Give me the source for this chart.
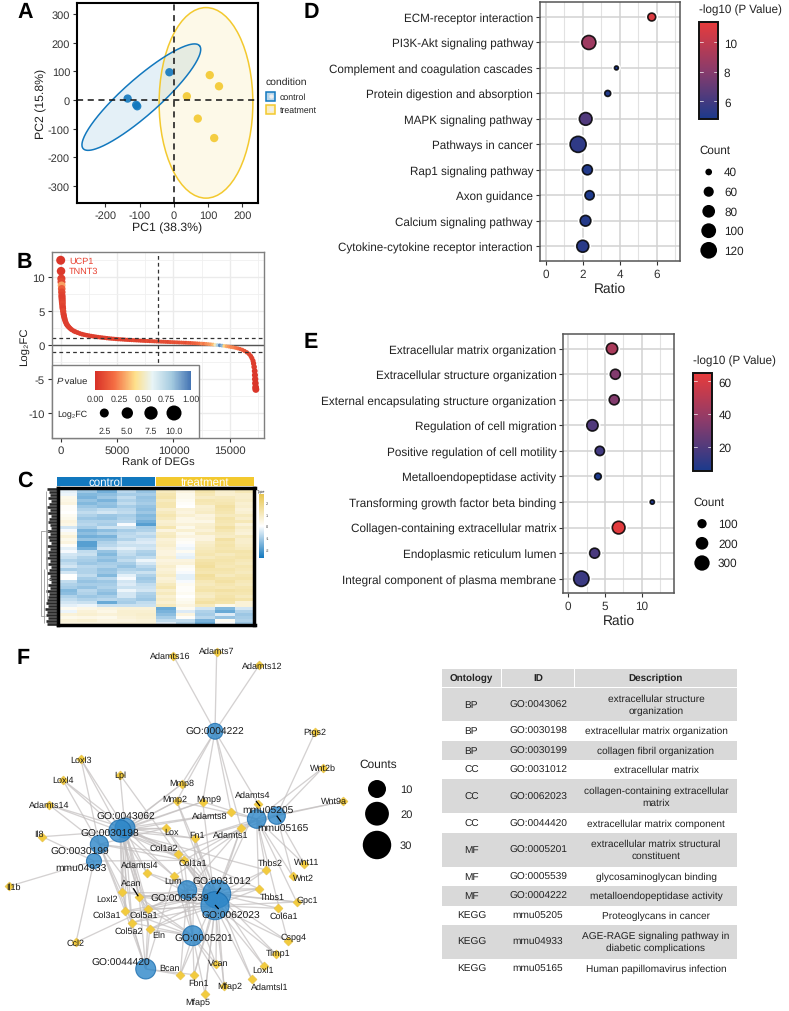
import numpy as np, pandas as pd, matplotlib
matplotlib.use('Agg')
import matplotlib.pyplot as plt, seaborn as sns
from matplotlib.colors import LinearSegmentedColormap as LSC, Normalize
from matplotlib.cm import ScalarMappable
from matplotlib.collections import LineCollection
from matplotlib.patches import Rectangle, Ellipse
from matplotlib.ticker import MultipleLocator

sns.set_theme(style='white')
plt.rcParams['font.family'] = ['Liberation Sans', 'DejaVu Sans']
plt.rcParams['axes.unicode_minus'] = False
plt.rcParams['text.hinting'] = 'no_hinting'

W, H = 789, 1012
BLUE, GOLD = '#1278BE', '#F3C92F'

# ---------- A: PCA ----------
pc1_control = [-135, -110, -107, -13]
pc2_control = [5, -17, -22, 97]
pc1_treat = [38, 105, 132, 70, 118]
pc2_treat = [13, 87, 48, -65, -133]
# ---------- B: ranked curve ----------
rank_deg = [0, 30, 60, 70, 80, 90, 100, 110, 120, 130, 140, 150, 170, 190, 220, 250, 290, 330, 380, 440, 520, 600, 700, 820, 960,
            1150, 1300, 1500, 1700, 1900, 2100, 2300, 2500, 2700, 2900, 3100, 3300, 3500, 3700, 3900, 4100, 4300, 4500, 4700, 4900,
            5100, 5300, 5500, 5700, 5900, 6100, 6300, 6500, 6700, 6900, 7100, 7300, 7500, 7700, 7900, 8100, 8300, 8500, 8700, 8900,
            9100, 9300, 9500, 9700, 9900, 10100, 10300, 10500, 10700, 10900, 11100, 11300, 11500, 11700, 11900, 12100, 12300, 12500,
            12700, 12900, 13100, 13300, 13500, 13700, 13900, 14100, 14300, 14500, 14700, 14900, 15100, 15300, 15500, 15700, 15900,
            16100, 16300, 16500, 16700, 16850, 16950, 17050, 17100, 17150, 17200, 17220, 17240, 17260, 17280, 17300]
log2fc = [12.5, 10.9, 9.8, 9.3, 8.8, 8.3, 7.8, 7.3, 7.0, 6.7, 6.4, 6.1, 5.7, 5.4, 5.0, 4.6, 4.3, 4.0, 3.7, 3.4, 3.1, 2.9, 2.7, 2.5, 2.3,
          2.1, 1.98, 1.85, 1.72, 1.62, 1.54, 1.47, 1.41, 1.35, 1.3, 1.25, 1.2, 1.16, 1.12, 1.08, 1.04, 1.0, 0.97, 0.94, 0.91,
          0.88, 0.86, 0.84, 0.81, 0.79, 0.77, 0.75, 0.73, 0.71, 0.69, 0.67, 0.65, 0.63, 0.62, 0.6, 0.59, 0.57, 0.55, 0.54, 0.52,
          0.51, 0.49, 0.48, 0.46, 0.45, 0.43, 0.42, 0.4, 0.39, 0.37, 0.36, 0.34, 0.33, 0.31, 0.29, 0.27, 0.25, 0.23,
          0.21, 0.19, 0.16, 0.13, 0.1, 0.06, 0.02, -0.02, -0.06, -0.11, -0.16, -0.21, -0.27, -0.32, -0.39, -0.47, -0.56,
          -0.68, -0.85, -1.05, -1.3, -1.6, -1.9, -2.3, -2.7, -3.2, -3.8, -4.4, -5.0, -5.6, -6.2, -6.5]
pvalue_deg = [.02, .03, .05, .08, .3, .15, .08, .06, .05, .05, .06, .08, .06, .05, .08, .06, .05, .05, .05, .05, .05, .05, .05, .05, .05,
              .05, .05, .05, .05, .05, .05, .05, .05, .05, .05, .05, .05, .06, .05, .06, .05, .06, .05, .07, .06, .06, .06, .06, .06, .07, .06,
              .07, .08, .06, .07, .06, .08, .07, .09, .07, .1, .08, .1, .08, .1, .09, .1, .08, .1, .12, .1, .12, .1, .13, .12, .1, .14, .12,
              .15, .16, .18, .2, .25, .22, .26, .28, .3, .35, .5, .75, .95, .85, .4, .32, .28, .25, .25, .22, .2, .17,
              .15, .12, .1, .08, .07, .06, .05, .04, .04, .03, .03, .03, .02, .02, .02]
# ---------- C: heat map (rows top to bottom) ----------
c1 = [-.5,-.3,-.2,.3,.4,.5,.1,.1,.0,.2,.3,.5,.4,-.5,-.1,.3,.6,.3,.5,.1,-.3,-.1,-.5,-.6,-.9,-.7,-.5,-1,-.5,.0,.0,-.7,-.9,-1,-1.4,-1.3,-.9,-.7,-.5,-.3,.2,-.2,.6,.3,.6,.5]
c2 = [-1,-1.1,-1.4,-1.5,-1.2,-1.4,-1.1,-.9,-.7,-.9,-1.1,-.9,-.8,-1,-1.5,-1.3,-1.6,-1.2,-1.9,-1.9,-1.6,-.7,-.6,-.9,-1,-1.1,-.8,-.9,-.9,-.7,-1,-1.2,-1,-1.2,-.8,-.9,-1.1,-.9,-.6,-.2,.4,.6,.7,.4,.7,.5]
c3 = [-1.1,-1.6,-1.3,-1.1,-1.5,-1.2,-1.3,-.7,-.5,-1.1,-1.2,-.9,-1,-.6,-1.3,-1,-1.5,-1.2,-.9,-.8,-.5,-1.2,-1.4,-1.1,-1.3,-1,-.9,-1.2,-1.1,-1.4,-.8,-1.1,-1,-.9,-1.1,-1.3,-1,-.8,-1.7,-.6,.5,.4,.6,.3,.5,.5]
c4 = [-.5,-.8,-1,-.7,-.9,-.7,-1,-.8,-.7,-1,-.9,-.8,-.1,-.6,-1,-.8,-.7,-.9,-.5,-.6,-.3,-.6,-.7,-.9,-.7,-1,-1.2,-.9,-.7,-.3,-.1,-.5,-.4,-.6,-.2,-.5,-.5,-.9,-1,-.6,.6,.7,.7,.6,.5,.6]
c5 = [-1,-1.2,-1,-1.2,-1.1,-1,-1.2,-1.3,-1.1,-1.4,-1.3,-1.6,-1.9,-1,-.9,-.6,-.8,-.5,-.4,-.6,-.5,-.9,-1,-.7,-.2,-.5,-.8,-1,-.6,-.9,-1.1,-1,-.7,-.6,-.5,-.9,-1,-1.1,-.7,-.6,.6,.7,.8,.7,.6,.6]
c6 = [1.1,1,1.2,1.3,1,1.2,1.2,.8,1,1.2,1,.7,.8,1.2,.5,.9,1,.6,.7,.8,.6,.5,.5,.7,.5,.6,.8,.6,.7,.9,.6,.7,1,1.2,.8,1,.7,.9,.7,1,-1.7,-1.5,-1.3,-1,-.7,-.4]
c7 = [.4,.5,.3,.3,.2,.1,.0,.6,.5,.7,.4,.4,.6,.3,.7,.3,.5,.2,.1,-.1,-.2,.2,-.2,-.3,.5,.6,.2,.1,-.1,-.3,-.3,-.1,.2,.1,.1,.2,.0,.2,.3,.5,.2,-.4,.5,.1,-.7,-.9]
c8 = [1.2,1.3,1.1,.9,1.2,1.1,.7,.8,.9,.5,.6,.4,.7,.8,.6,.9,.5,.5,.8,.9,1,1.1,1.2,1,1.3,1.4,1.5,1.3,1.2,1.5,1.4,1.1,1,1.2,1.3,1,.9,1.2,1.4,1,-.5,-.9,-1,-.8,-1.5,-1.7]
c9 = [.3,.8,.7,1,1.1,1.2,1.4,1.3,1.2,1,1.3,1.2,1.1,1.4,1.2,1,.9,1.4,1.2,1.3,1.2,1.3,1,1.2,1.3,1.2,1.1,1.3,1.2,1,1.3,1.4,1.2,1.1,1.4,1.2,1.3,1.4,1.3,.3,-1.4,-1.7,-.4,-1.2,.2,-.1]
c10 = [.9,1.1,.8,.8,.9,.7,.8,.6,.7,1,.8,1.1,.6,.9,.7,.6,1,.8,.8,.9,1,1.3,1.2,1.3,1.1,1,1.2,1.1,1,1.2,1.3,1.1,1,1.2,1.3,1.2,1,1.3,.6,.6,-.5,-.9,-1.1,-1,-.9,-1.1]
# ---------- D ----------
kegg_terms = ['ECM-receptor interaction', 'PI3K-Akt signaling pathway', 'Complement and coagulation cascades',
              'Protein digestion and absorption', 'MAPK signaling pathway', 'Pathways in cancer', 'Rap1 signaling pathway',
              'Axon guidance', 'Calcium signaling pathway', 'Cytokine-cytokine receptor interaction']
kegg_ratio = [5.73, 2.33, 3.82, 3.35, 2.16, 1.75, 2.25, 2.37, 2.15, 2.0]
kegg_count = [46, 92, 30, 37, 80, 113, 59, 54, 64, 74]
kegg_logp = [10.9, 8.8, 5.0, 5.0, 6.4, 5.4, 5.0, 4.9, 5.1, 5.2]
kegg_legend = [40, 60, 80, 100, 120]
# ---------- E ----------
go_terms = ['Extracellular matrix organization', 'Extracellular structure organization',
            'External encapsulating structure organization', 'Regulation of cell migration',
            'Positive regulation of cell motility', 'Metalloendopeptidase activity',
            'Transforming growth factor beta binding', 'Collagen-containing extracellular matrix',
            'Endoplasmic reticulum lumen', 'Integral component of plasma membrane']
go_ratio = [5.95, 6.4, 6.25, 3.3, 4.3, 4.05, 11.4, 6.85, 3.6, 1.8]
go_count = [156, 118, 118, 156, 100, 43, 8, 200, 118, 300]
go_logp = [45, 33, 33, 20, 16, 6, 7, 63, 18, 14]
go_legend = [100, 200, 300]
# ---------- F: network ----------
term_names = ['GO:0004222', 'mmu05205', 'mmu05165', 'GO:0043062', 'GO:0030198', 'GO:0030199', 'mmu04933',
              'GO:0005539', 'GO:0031012', 'GO:0062023', 'GO:0005201', 'GO:0044420']
term_counts = [7, 11, 9, 13, 17, 10, 6, 11, 29, 29, 13, 13]
term_x = [215, 256.7, 276.7, 125, 120, 99.3, 94, 187.3, 216.7, 215, 192.7, 145.7]
term_y = [732.3, 820, 816.7, 829, 832, 845.3, 862, 891, 895, 906.7, 936.7, 970]
term_lx = [215, 268, 283, 126, 110, 80, 80.7, 180, 221.7, 230.7, 204, 120.7]
term_ly = [732.3, 811.7, 829, 817, 834.7, 852, 869.3, 899, 882, 916.7, 939.3, 963.3]
gene_names = ['Adamts16', 'Adamts7', 'Adamts12', 'Ptgs2', 'Wnt2b', 'Wnt9a', 'Adamts4', 'Adamts8', 'Mmp9', 'Mmp8', 'Mmp2', 'Lpl', 'Loxl3', 'Loxl4',
              'Adamts14', 'Il8', 'Il1b', 'Lox', 'Col1a2', 'Col1a1', 'Fn1', 'Adamts1', 'Adamtsl4', 'Lum', 'Acan', 'Loxl2', 'Col3a1', 'Col5a1', 'Col5a2',
              'Eln', 'Ccl2', 'Bcan', 'Fbn1', 'Vcan', 'Mfap2', 'Mfap5', 'Adamtsl1', 'Loxl1', 'Timp1', 'Cspg4', 'Col6a1', 'Gpc1', 'Thbs1', 'Thbs2', 'Wnt2', 'Wnt11']
gene_x = [173.3, 216.7, 259.3, 315, 322.7, 343.3, 258.3, 231, 202.7, 181.7, 176.7, 120, 81, 62.7,
          49.3, 42.3, 9, 165.7, 178.3, 184, 195, 241, 146.7, 174, 139.3, 122, 125, 148.3, 132,
          149.7, 76, 180.3, 194, 216, 224, 205, 251.7, 264, 276, 287.7, 278.3, 296.7, 258.7, 266, 292.7, 304]
gene_y = [656.7, 652.7, 666, 733.3, 769, 802.3, 805, 813.3, 802.7, 785, 802, 775.7, 760.3, 780.7,
          806, 837.7, 887.3, 829, 854.7, 861.3, 839.3, 828.7, 873.7, 877.3, 898, 893.3, 912, 910.3, 923.7,
          930.3, 943.3, 975.7, 975.7, 965, 986.7, 995, 980, 967, 955.3, 942.3, 909.3, 903, 889.7, 871, 877.3, 865]
gene_lx = [170.7, 216.7, 262, 315, 322.7, 333.7, 252.7, 209.3, 208.3, 181.7, 174.3, 120, 81, 62.7,
           49.3, 39, 13.3, 172, 164, 192.7, 197.3, 230.7, 139.3, 172.7, 131, 107.3, 106.7, 143.3, 128.7,
           159, 76, 170, 198.7, 218.3, 230, 197.3, 269.3, 263.3, 278.3, 293.3, 283.7, 307, 272, 270.7, 303.7, 306.7]
gene_ly = [657, 652, 667, 733.3, 769, 802, 795.3, 816.3, 800, 784, 800.3, 775.7, 760.3, 780.7,
           806, 835, 887.7, 832.3, 848.3, 863.7, 835.7, 835.7, 865.7, 882, 884, 900, 916, 916, 931.7,
           935.3, 943.3, 969, 983.3, 963.3, 987, 1003, 987.3, 970.3, 954, 938.3, 916.3, 900.7, 898, 864, 878.7, 862.3]
ECM = ['GO:0031012', 'GO:0062023']
MAT = ['GO:0043062', 'GO:0030198']
gene_terms = {'Adamts16': ['GO:0004222'], 'Adamts7': ['GO:0004222'], 'Adamts12': ['GO:0004222'], 'Ptgs2': ['mmu05165'],
    'Wnt2b': ['mmu05205', 'mmu05165'], 'Wnt9a': ['mmu05205', 'mmu05165'], 'Adamts4': ['GO:0004222', 'GO:0031012'],
    'Adamts8': ['GO:0004222', 'GO:0043062', 'GO:0030198'], 'Mmp9': ['GO:0004222', 'mmu05205', 'GO:0043062', 'GO:0030198', 'GO:0062023'],
    'Mmp8': ['GO:0004222', 'GO:0043062', 'GO:0030198'], 'Mmp2': ['GO:0004222', 'mmu05205', 'GO:0043062', 'GO:0030198', 'GO:0031012', 'GO:0062023'],
    'Lpl': ['GO:0043062', 'GO:0062023'], 'Loxl3': ['GO:0043062', 'GO:0030198', 'GO:0030199'], 'Loxl4': ['GO:0043062', 'GO:0030198', 'GO:0030199'],
    'Adamts14': ['GO:0043062', 'GO:0030198', 'GO:0030199'], 'Il8': ['GO:0030198', 'mmu04933'], 'Il1b': ['mmu04933'],
    'Lox': MAT + ['GO:0030199', 'GO:0031012', 'GO:0062023'], 'Col1a2': MAT + ['GO:0030199', 'mmu05165', 'GO:0005201'] + ECM,
    'Col1a1': MAT + ['GO:0030199', 'mmu05205', 'GO:0005201', 'mmu04933'] + ECM, 'Fn1': MAT + ['mmu05205', 'mmu05165', 'GO:0005201'] + ECM,
    'Adamts1': ['GO:0004222', 'GO:0005539'] + ECM, 'Adamtsl4': MAT + ECM, 'Lum': MAT + ['GO:0005539', 'GO:0005201', 'mmu05205', 'GO:0044420'] + ECM,
    'Acan': MAT + ['GO:0005539', 'GO:0005201', 'GO:0044420'] + ECM, 'Loxl2': MAT + ['GO:0030199', 'GO:0044420'] + ECM,
    'Col3a1': MAT + ['GO:0030199', 'GO:0044420', 'GO:0005201'] + ECM, 'Col5a1': MAT + ['GO:0030199', 'GO:0005539', 'GO:0044420', 'GO:0005201'] + ECM,
    'Col5a2': MAT + ['GO:0030199', 'GO:0044420', 'GO:0005201'] + ECM, 'Eln': MAT + ['GO:0044420', 'GO:0005201'] + ECM,
    'Ccl2': ['mmu04933', 'GO:0005539'], 'Bcan': ['GO:0044420', 'GO:0005539', 'GO:0005201', 'GO:0031012'], 'Fbn1': ['GO:0044420', 'GO:0005201'] + ECM,
    'Vcan': ['GO:0005201', 'GO:0005539', 'GO:0031012'], 'Mfap2': ['GO:0005201'] + ECM, 'Mfap5': ['GO:0005201'] + ECM, 'Adamtsl1': ECM, 'Loxl1': ECM,
    'Timp1': ECM, 'Cspg4': ECM + ['mmu05205'], 'Col6a1': ECM, 'Gpc1': ECM + ['GO:0005539', 'mmu05205'], 'Thbs1': ECM + ['GO:0005539', 'mmu05205', 'GO:0043062'],
    'Thbs2': ECM + ['mmu05205', 'GO:0030198'], 'Wnt2': ['mmu05205', 'mmu05165'], 'Wnt11': ['mmu05205', 'mmu05165']}
count_legend = [10, 20, 30]
# ---------- table ----------
tab_header = ['Ontology', 'ID', 'Description']
tab_onto = ['BP', 'BP', 'BP', 'CC', 'CC', 'CC', 'MF', 'MF', 'MF', 'KEGG', 'KEGG', 'KEGG']
tab_id = ['GO:0043062', 'GO:0030198', 'GO:0030199', 'GO:0031012', 'GO:0062023', 'GO:0044420', 'GO:0005201', 'GO:0005539', 'GO:0004222',
          'mmu05205', 'mmu04933', 'mmu05165']
tab_desc = ['extracellular structure\norganization', 'extracellular matrix organization', 'collagen fibril organization', 'extracellular matrix',
            'collagen-containing extracellular\nmatrix', 'extracellular matrix component', 'extracellular matrix structural\nconstituent',
            'glycosaminoglycan binding', 'metalloendopeptidase activity', 'Proteoglycans in cancer',
            'AGE-RAGE signaling pathway in\ndiabetic complications', 'Human papillomavirus infection']

fig = plt.figure(figsize=(W / 100, H / 100), dpi=100, facecolor='white')
def box(l, t, r, b, **kw):
    return fig.add_axes([l / W, 1 - b / H, (r - l) / W, (b - t) / H], **kw)

ov = fig.add_axes([0, 0, 1, 1], zorder=5)
ov.set_xlim(0, W); ov.set_ylim(H, 0); ov.axis('off'); ov.patch.set_alpha(0)

def style(ax, color='#555555', lw=1.0, size=9, tc='#333333'):
    for s in ax.spines.values():
        s.set_visible(True); s.set_color(color); s.set_linewidth(lw)
    ax.tick_params(length=3, width=0.8, color='#333333', labelsize=size, labelcolor=tc, pad=2, left=True, bottom=True)

# ---- A
axA = box(77, 4, 258, 204)
style(axA, 'black', 1.5, 7.9)
dfA = pd.DataFrame({'PC1': pc1_control + pc1_treat, 'PC2': pc2_control + pc2_treat,
                    'condition': ['control'] * 4 + ['treatment'] * 5})
t = np.linspace(0, 2 * np.pi, 200)
axA.fill(-95 + 170 * np.cos(t) - 35 * np.sin(t), 10 + 180 * np.cos(t) + 47 * np.sin(t), fc=BLUE, alpha=.11, lw=0)
axA.plot(-95 + 170 * np.cos(t) - 35 * np.sin(t), 10 + 180 * np.cos(t) + 47 * np.sin(t), color=BLUE, lw=1.1)
axA.add_patch(Ellipse((94, -10), 274, 666, fc=GOLD, alpha=.11, lw=0))
axA.add_patch(Ellipse((94, -10), 274, 666, fc='none', ec=GOLD, lw=1.1))
sns.scatterplot(data=dfA, x='PC1', y='PC2', hue='condition', palette={'control': BLUE, 'treatment': GOLD}, s=36, alpha=.9, lw=0, legend=False, ax=axA)
axA.axhline(0, color='#111111', ls=(0, (4, 3)), lw=1.1); axA.axvline(0, color='#111111', ls=(0, (4, 3)), lw=1.1)
axA.set_xlim(-283, 246); axA.set_ylim(-360, 339)
axA.set_xticks([-200, -100, 0, 100, 200]); axA.set_yticks([-300, -200, -100, 0, 100, 200, 300])
axA.set_xlabel('PC1 (38.3%)', fontsize=8.8, color='#222222', labelpad=1); axA.set_ylabel('PC2 (15.8%)', fontsize=8.8, color='#222222', labelpad=1)
ov.text(265.3, 82, 'condition', fontsize=7.5, va='center', color='#222222')
for yy, col, lab in [(97.2, BLUE, 'control'), (110.2, GOLD, 'treatment')]:
    ov.add_patch(Rectangle((266.5, yy - 4.5), 8.5, 9, fc=col, ec='none', alpha=.3))
    ov.add_patch(Rectangle((266.5, yy - 4.5), 8.5, 9, fc='none', ec=col, lw=1.1))
    sns.scatterplot(x=[270.7], y=[yy], color='#EEEEEE', s=10, lw=0, legend=False, ax=ov)
    ov.text(280, yy, lab, fontsize=6.3, va='center', color='#222222')

# ---- B
axB = box(52, 253.3, 264, 439.3)
style(axB, '#7F7F7F', 1.0, 8.2)
p_cmap = LSC.from_list('pv', [(0, '#D73027'), (.2, '#F46D43'), (.42, '#FEE08B'), (.6, '#E8F4F6'), (.8, '#A5CBE0'), (1, '#4575B4')])
axB.xaxis.set_minor_locator(MultipleLocator(2500)); axB.yaxis.set_minor_locator(MultipleLocator(2.5))
axB.grid(True, which='major', color='#EBEBEB', lw=1.0); axB.grid(True, which='minor', color='#F0F0F0', lw=.6)
axB.set_axisbelow(True)
axB.tick_params(which='minor', length=0)
dfB = pd.DataFrame({'rank': rank_deg, 'fc': log2fc, 'p': pvalue_deg, 'abs': np.abs(log2fc)})
axB.axhline(0, color='#555555', lw=1.0, zorder=1)
sns.scatterplot(data=dfB, x='rank', y='fc', hue='p', palette=p_cmap, hue_norm=(0, 1), size='abs', sizes=(7, 42), size_norm=(0, 12.5), lw=0, legend=False, ax=axB)
for v in (1, -1):
    axB.axhline(v, color='#333333', ls=(0, (3, 2.5)), lw=.9)
axB.axvline(8600, color='#333333', ls=(0, (3, 2.5)), lw=.9)
axB.set_xlim(-771, 18023); axB.set_ylim(-13.7, 13.67)
axB.set_xticks([0, 5000, 10000, 15000]); axB.set_yticks([-10, -5, 0, 5, 10])
axB.set_xlabel('Rank of DEGs', fontsize=8.2, color='#222222', labelpad=1); axB.set_ylabel('Log₂FC', fontsize=8.2, color='#222222', labelpad=0)
ov.text(69, 261.5, 'UCP1', fontsize=6.6, color='#E8402F', va='center')
ov.text(69, 271.5, 'TNNT3', fontsize=6.6, color='#E8402F', va='center')
ov.add_patch(Rectangle((52, 365.7), 147, 73.6, fc='white', ec='#7F7F7F', lw=1, zorder=1))
cB = box(95, 372, 190.7, 391, zorder=6)
cbB = fig.colorbar(ScalarMappable(Normalize(0, 1), p_cmap), cax=cB, orientation='horizontal')
cbB.outline.set_visible(False); cbB.set_ticks([0, .25, .5, .75, 1]); cbB.set_ticklabels(['0.00', '0.25', '0.50', '0.75', '1.00'])
cB.tick_params(length=0, labelsize=6.4, pad=3, labelcolor='#333333')
ov.text(57, 382, 'P', style='italic', fontsize=6.8, va='center', color='#222222')
ov.text(62.5, 382, ' value', fontsize=6.8, va='center', color='#222222')
ov.text(57, 415, 'Log₂FC', fontsize=6.4, va='center', color='#222222')
fc_legend = [2.5, 5.0, 7.5, 10.0]
sns.scatterplot(x=[104.3, 127.3, 151, 174], y=[414] * 4, size=fc_legend, sizes=(42, 117), size_norm=(2.5, 10), color='black', lw=0, legend=False, ax=ov)
for xx, v in zip([105, 127.3, 151, 174], fc_legend):
    ov.text(xx, 431.6, f'{v:.1f}', fontsize=6.4, ha='center', va='center', color='#333333')

# ---- C
mat = np.array([c1, c2, c3, c4, c5, c6, c7, c8, c9, c10]).T
h_cmap = LSC.from_list('hm', [BLUE, '#FFFFFF', '#E8C650'])
axC = box(57.5, 488.5, 254.5, 626)
cC = box(259, 495, 264, 559, zorder=6)
sns.heatmap(mat, cmap=h_cmap, vmin=-2.7, vmax=2.7, ax=axC, cbar_ax=cC, xticklabels=False, yticklabels=False)
for s in axC.spines.values():
    s.set_visible(True); s.set_color('black'); s.set_linewidth(2.5)
cC.tick_params(length=0, labelsize=2.8, pad=1.5, labelcolor='#333333'); cC.set_yticks([-2, -1, 0, 1, 2])
ov.text(261.5, 492.5, 'Type', fontsize=2.8, ha='center', va='center', color='#222222')
ov.add_patch(Rectangle((57, 478), 98, 9, fc=BLUE, ec='none'))
ov.add_patch(Rectangle((156, 478), 98, 9, fc=GOLD, ec='none'))
ov.text(106, 482.8, 'control', color='white', fontsize=8.3, ha='center', va='center')
ov.text(205, 482.8, 'treatment', color='white', fontsize=8.3, ha='center', va='center')
leaf_left = [47, 49, 50, 48, 51, 49, 47, 50, 48, 51, 49, 48, 50, 51, 47, 50, 48, 49, 51, 47, 50, 48, 49, 46, 50, 48, 51, 49, 47, 50, 49, 51, 48, 50, 46, 49, 48, 47, 46, 48,
             45, 47, 46, 48, 46, 47]
leaf_y = 488.5 + (np.arange(len(leaf_left)) + .5) * 137.5 / len(leaf_left)
ov.add_collection(LineCollection([[(l, y), (57.5, y)] for l, y in zip(leaf_left, leaf_y)], colors='#111111', lw=1.9, alpha=.9))
ov.add_collection(LineCollection([[(45.5, 531.5), (41.5, 531.5), (41.5, 617), (45, 617)],
                                  [(46, 492), (46, 570)], [(47.5, 510), (47.5, 600)], [(44.5, 570), (44.5, 610)], [(44.5, 606), (44.5, 624)],
                                  [(45.5, 531.5), (49, 531.5)], [(46, 560), (50, 560)], [(47.5, 580), (51, 580)]], colors='#9A9A9A', lw=.6))

# ---- D / E
dot_cmap = LSC.from_list('dot', ['#1B3A8C', '#8A3B6B', '#E83B3B'])
def dotpanel(l, t, r, b, terms, ratio, count, logp, xlim, ylim, xticks, xminor, sizes, snorm, hnorm, fs, tick):
    ax = box(l, t, r, b)
    style(ax, '#555555', 1.1, tick)
    ax.xaxis.set_minor_locator(MultipleLocator(xminor))
    ax.grid(True, which='major', color='#D2D2D2', lw=1.1); ax.grid(True, which='minor', axis='x', color='#E2E2E2', lw=.8)
    ax.set_axisbelow(True); ax.tick_params(which='minor', length=0)
    df = pd.DataFrame({'ratio': ratio, 'row': np.arange(len(terms)), 'n': count, 'lp': logp})
    sns.scatterplot(data=df, x='ratio', y='row', color='white', edgecolor='white', linewidth=3.5, size='n', sizes=sizes, size_norm=snorm, legend=False, ax=ax)
    sns.scatterplot(data=df, x='ratio', y='row', hue='lp', palette=dot_cmap, hue_norm=hnorm, size='n', sizes=sizes, size_norm=snorm,
                    edgecolor=(0, 0, 0, .85), linewidth=1.2, legend=False, ax=ax)
    ax.set_xlim(*xlim); ax.set_ylim(*ylim); ax.set_xticks(xticks)
    ax.set_yticks(range(len(terms))); ax.set_yticklabels(terms, fontsize=fs, color='#222222')
    ax.set_xlabel('Ratio', fontsize=9.9, color='#222222', labelpad=2); ax.set_ylabel('')
    return ax
def dotcbar(l, t, r, b, hnorm, ticks):
    c = box(l, t, r, b, zorder=6)
    cb = fig.colorbar(ScalarMappable(Normalize(*hnorm), dot_cmap), cax=c)
    cb.set_ticks(ticks); cb.outline.set_edgecolor('#111111'); cb.outline.set_linewidth(1.4)
    c.tick_params(length=0, labelsize=8.5, pad=4.5, labelcolor='#222222')
    for v in ticks:
        c.plot([0, .2], [v, v], color='white', lw=.6, alpha=.8, transform=c.get_yaxis_transform())
        c.plot([.8, 1], [v, v], color='white', lw=.6, alpha=.8, transform=c.get_yaxis_transform())

dotpanel(540, 3, 679.7, 262, kegg_terms, kegg_ratio, kegg_count, kegg_logp, (-.31, 7.24), (9.58, -.59), [0, 2, 4, 6], 1, (8, 159), (30, 130), (4.78, 11.4), 8.4, 8.5)
dotcbar(699, 22.7, 717.7, 120, (4.78, 11.4), [6, 8, 10])
ov.text(699, 10, '-log10 (P Value)', fontsize=8.4, va='center', color='#222222')
ov.text(699, 151, 'Count', fontsize=8.4, va='center', color='#222222')
ys = [173, 192.7, 212.3, 231.7, 251.3]
sns.scatterplot(x=[708.7] * 5, y=ys, size=kegg_legend, sizes=(8, 159), size_norm=(30, 130), color='black', lw=0, legend=False, ax=ov)
for yy, v in zip(ys, kegg_legend):
    ov.text(724, yy, str(v), fontsize=8.5, va='center', color='#222222')

dotpanel(563.3, 335, 673.7, 594.3, go_terms, go_ratio, go_count, go_logp, (-.64, 14.3), (9.57, -.575), [0, 5, 10], 2.5, (6.5, 122), (0, 300), (5.3, 65.3), 8.5, 8.5)
dotcbar(693, 373.7, 712, 471.7, (5.3, 65.3), [20, 40, 60])
ov.text(693, 361.7, '-log10 (P Value)', fontsize=8.4, va='center', color='#222222')
ov.text(693, 503, 'Count', fontsize=8.4, va='center', color='#222222')
ys = [524.7, 544.3, 564]
sns.scatterplot(x=[702] * 3, y=ys, size=go_legend, sizes=(6.5, 122), size_norm=(0, 300), color='black', lw=0, legend=False, ax=ov)
for yy, v in zip(ys, go_legend):
    ov.text(718, yy, str(v), fontsize=8.5, va='center', color='#222222')

# ---- F
term_pos = dict(zip(term_names, zip(term_x, term_y)))
gene_pos = dict(zip(gene_names, zip(gene_x, gene_y)))
segs = [[gene_pos[g], term_pos[tn]] for g, ts in gene_terms.items() for tn in ts]
ov.add_collection(LineCollection(segs, colors='#C4C0C0', lw=.95, alpha=.72, zorder=1))
sns.scatterplot(x=gene_x, y=gene_y, marker='D', s=21, color='#F2CB3E', edgecolor='#E6C04A', lw=.4, legend=False, zorder=2, ax=ov)
sns.scatterplot(x=term_x, y=term_y, size=term_counts, sizes=(117, 420), size_norm=(6, 30), color='#2C86C8', edgecolor='#1B6DAE', lw=.8, alpha=.8, legend=False, zorder=3, ax=ov)
for n, x, y in zip(gene_names, gene_lx, gene_ly):
    ov.text(x, y, n, fontsize=6.5, ha='center', va='center', color='#1A1A1A', zorder=4)
for n, x, y in zip(term_names, term_lx, term_ly):
    ov.text(x, y, n, fontsize=7.4, ha='center', va='center', color='#1A1A1A', zorder=4)
ov.add_collection(LineCollection([[(256, 802), (260, 807)], [(276.7, 816.7), (281, 822.7)], [(220.7, 888.7), (216.7, 895)],
                                  [(215, 906), (218.7, 910)], [(133.3, 889.3), (138.3, 897.3)]], colors='black', lw=.9, zorder=4))
ov.text(378.7, 765, 'Counts', fontsize=8.6, ha='center', va='center', color='#222222')
ys = [790, 814.7, 846]
sns.scatterplot(x=[377] * 3, y=ys, size=count_legend, sizes=(168, 420), size_norm=(10, 30), color='black', lw=0, legend=False, ax=ov)
for yy, v in zip(ys, count_legend):
    ov.text(400, yy, str(v), fontsize=8, va='center', color='#222222')

# ---- table
cols = [(441.7, 501), (502, 574), (575, 737)]
edges = [688.7, 722, 741.7, 761, 780, 814.7, 834, 868, 887, 907, 926, 960, 979]
for (a, b), h in zip(cols, tab_header):
    ov.add_patch(Rectangle((a, 670), b - a, 17.7, fc='#D9D9D9', ec='none'))
    ov.text((a + b) / 2, 678.7, h, fontsize=7.1, fontweight='bold', ha='center', va='center', color='#222222')
for i in range(12):
    top, bot = edges[i], edges[i + 1]
    if i % 2 == 0:
        ov.add_patch(Rectangle((441.7, top), 737 - 441.7, bot - top - .5, fc='#D9D9D9', ec='none'))
    for (a, b), s in zip(cols, (tab_onto[i], tab_id[i], tab_desc[i])):
        ov.text((a + b) / 2, (top + bot) / 2 - .3, s, fontsize=7.3, ha='center', va='center', color='#222222', linespacing=1.35)

# ---- panel letters
for lab, x, y in [('A', 17, 18), ('B', 17, 267.7), ('C', 17, 486.7), ('D', 304, 18), ('E', 304, 348), ('F', 17, 664)]:
    ov.text(x, y, lab, fontsize=15.5, fontweight='bold', color='black', va='baseline')

fig.savefig('out.png', dpi=100)
